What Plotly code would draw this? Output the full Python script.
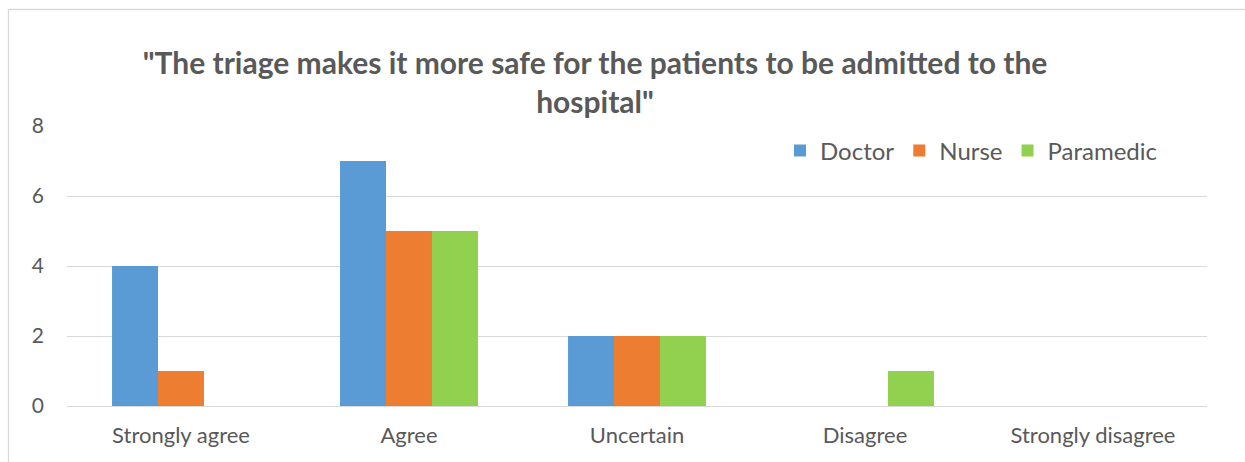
import plotly.graph_objects as go

categories = ["Strongly agree", "Agree", "Uncertain", "Disagree", "Strongly disagree"]
doctor = [4, 7, 2, 0, 0]
nurse = [1, 5, 2, 0, 0]
paramedic = [0, 5, 2, 1, 0]

series = [
    ("Doctor", doctor, "#5B9BD5"),
    ("Nurse", nurse, "#ED7D31"),
    ("Paramedic", paramedic, "#92D050"),
]

FONT = "Lato, Calibri, Carlito, sans-serif"
GREY = "#595959"

fig = go.Figure()
for name, vals, color in series:
    fig.add_trace(go.Bar(name=name, x=categories, y=vals, marker=dict(color=color, line=dict(width=0))))

W, H = 1245, 462
L, R, T, B = 67, 38, 126, 56
pw, ph = W - L - R, H - T - B

def px_x(p):
    return (p - L) / pw

def px_y(p):
    return (H - B - p) / ph

fig.update_layout(
    width=W, height=H,
    margin=dict(l=L, r=R, t=T, b=B),
    paper_bgcolor="white", plot_bgcolor="white",
    barmode="group", bargap=0.395, bargroupgap=0,
    font=dict(family=FONT, color=GREY, size=20),
    title=dict(
        text='"The triage makes it more safe for the patients to be admitted to the<br>hospital"',
        x=595 / W, xanchor="center",
        y=1 - 74 / H, yanchor="middle",
        font=dict(family=FONT, size=30, color=GREY, weight="bold"),
    ),
    legend=dict(
        orientation="h", x=px_x(780), xanchor="left", y=px_y(151), yanchor="middle",
        font=dict(size=24, color=GREY), bgcolor="rgba(0,0,0,0)",
        itemwidth=30, tracegroupgap=0,
    ),
    xaxis=dict(showgrid=False, showline=False, ticks="", ticklabelstandoff=14,
               tickfont=dict(size=22, color=GREY)),
    yaxis=dict(range=[0, 8], dtick=2, showgrid=True, gridcolor="#D9D9D9", gridwidth=1.3,
               zeroline=True, zerolinecolor="#D9D9D9", zerolinewidth=1.3,
               showline=False, ticks="", ticklabelstandoff=22,
               tickfont=dict(size=21, color=GREY)),
    showlegend=True,
)

# light frame around the chart area
fig.add_shape(type="rect", xref="paper", yref="paper",
              x0=px_x(8.5), x1=px_x(1260), y0=px_y(475), y1=px_y(9.5),
              line=dict(color="#D9D9D9", width=1.3), fillcolor="rgba(0,0,0,0)", layer="below")

fig.write_html("out.html")
